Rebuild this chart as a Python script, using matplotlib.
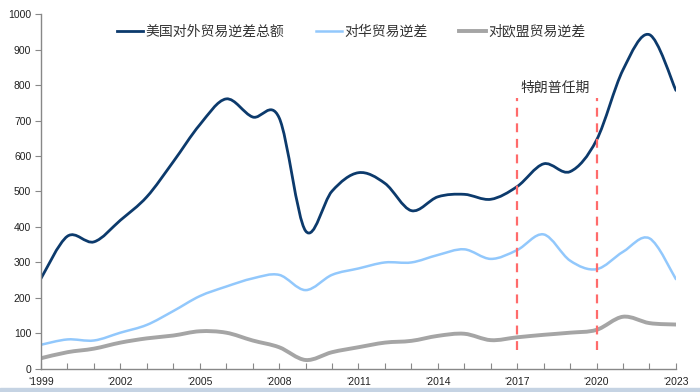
import numpy as np
import matplotlib
matplotlib.use('Agg')
import matplotlib.pyplot as plt
from matplotlib.path import Path
from matplotlib.patches import PathPatch, Rectangle
from matplotlib.lines import Line2D

plt.rcParams['font.family'] = ['Liberation Sans', 'Noto Sans CJK SC', 'DejaVu Sans']

years = list(range(1999, 2024))
# 美国对外贸易逆差总额
total = [255, 374, 358, 419, 485, 584, 688, 761, 710, 708, 389, 501, 553,
         523, 446, 485, 492, 478, 514, 578, 556, 645, 843, 942, 785]
# 对华贸易逆差
china = [68, 83, 80, 102, 124, 163, 205, 232, 255, 265, 222, 265, 283,
         300, 300, 321, 337, 310, 335, 379, 305, 281, 330, 368, 253]
# 对欧盟贸易逆差
eu = [30, 47, 57, 74, 86, 94, 106, 102, 80, 61, 25, 47, 61,
      74, 79, 93, 99, 81, 89, 96, 102, 110, 147, 129, 125]

labels = ['美国对外贸易逆差总额', '对华贸易逆差', '对欧盟贸易逆差']
colors = ['#0c3a6c', '#92c8fc', '#a5a5a5']
widths = [2.0, 1.8, 2.8]
trump_years = [2017, 2020]
xtick_years = list(range(1999, 2024, 3))


def smooth_path(xs, ys):
    # excel-like smoothed line as cubic bezier segments
    pts = np.column_stack([xs, ys]).astype(float)
    n = len(pts)
    verts = [pts[0]]
    codes = [Path.MOVETO]
    for i in range(n - 1):
        p0 = pts[i - 1] if i > 0 else pts[i]
        p1 = pts[i]
        p2 = pts[i + 1]
        p3 = pts[i + 2] if i + 2 < n else pts[i + 1]
        c1 = p1 + (p2 - p0) / 6
        c2 = p2 - (p3 - p1) / 6
        verts += [c1, c2, p2]
        codes += [Path.CURVE4] * 3
    return Path(verts, codes)


fig = plt.figure(figsize=(7, 3.92), dpi=100)
ax = fig.add_axes([0.0586, 0.059, 0.907, 0.905])

for data, c, w in zip([total, china, eu], colors, widths):
    ax.add_patch(PathPatch(smooth_path(years, data), fill=False, edgecolor=c,
                           lw=w, capstyle='round', joinstyle='round'))

for y in trump_years:
    ax.plot([y, y], [52, 764], color='#ff6b6b', lw=1.6, ls=(0, (4, 3)))
ax.text(2018.45, 792, '特朗普任期', ha='center', va='center', fontsize=10,
        color='#333333', family=['Noto Sans CJK SC', 'DejaVu Sans'])

ax.set_xlim(1999, 2023)
ax.set_ylim(0, 1000)
ax.set_xticks(years)
ax.set_xticklabels([f"\u2018{y}" if y in xtick_years else '' for y in years])
ax.set_yticks(range(0, 1001, 100))
ax.tick_params(axis='x', direction='in', length=4, color='#888888',
               labelsize=7.5, labelcolor='#222222', pad=6)
ax.tick_params(axis='y', direction='out', length=4, color='#888888',
               labelsize=7.5, labelcolor='#222222', pad=3)
for s in ['top', 'right']:
    ax.spines[s].set_visible(False)
for s in ['left', 'bottom']:
    ax.spines[s].set_color('#888888')
    ax.spines[s].set_linewidth(1.0)

handles = [Line2D([], [], color=c, lw=w) for c, w in zip(colors, widths)]
leg = ax.legend(handles, labels, loc='upper center', bbox_to_anchor=(0.488, 1.005),
                ncol=3, frameon=False, handlelength=1.9, handletextpad=0.15,
                columnspacing=2.3,
                prop={'family': ['Noto Sans CJK SC', 'DejaVu Sans'], 'size': 10})
for t in leg.get_texts():
    t.set_color('#333333')

fig.patches.append(Rectangle((0, 0), 1, 0.009, transform=fig.transFigure,
                             color='#c5d3e3', zorder=0))

fig.savefig('out.png', dpi=100)
